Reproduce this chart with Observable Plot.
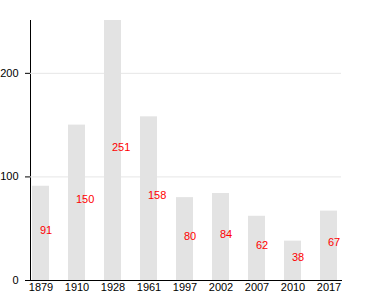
<!DOCTYPE html>
<html>
<head>
<meta charset="utf-8">
<script src="https://cdn.jsdelivr.net/npm/d3@7"></script>
<script src="https://cdn.jsdelivr.net/npm/@observablehq/plot@0.6"></script>
<style>
  html, body { margin: 0; padding: 0; background: #fff; }
  svg { font-family: "Liberation Sans", Arial, sans-serif; }
</style>
</head>
<body>
<div id="chart"></div>
<script>
const years = ["1879", "1910", "1928", "1961", "1997", "2002", "2007", "2010", "2017"];
const values = [91, 150, 251, 158, 80, 84, 62, 38, 67];
const yTicks = [0, 100, 200];

const data = years.map((year, i) => ({ year, value: values[i] }));

const chart = Plot.plot({
  width: 380,
  height: 300,
  marginLeft: 30,
  marginRight: 39,
  marginTop: 20,
  marginBottom: 20,
  style: { fontFamily: "Liberation Sans, Arial, sans-serif", fontSize: "11px", color: "#000", background: "#fff" },
  x: {
    domain: years,
    range: [19.7, 349.3],
    paddingInner: 0.54,
    paddingOuter: 0.27,
    label: null,
    tickSize: 0,
    tickPadding: 3,
    line: true
  },
  y: {
    domain: [0, 251],
    ticks: yTicks,
    tickSize: 5,
    tickPadding: 7,
    label: null,
    line: true
  },
  marks: [
    Plot.gridY(yTicks.filter(d => d > 0), { stroke: "#e6e6e6", strokeOpacity: 1 }),
    Plot.barY(data, { x: "year", y: "value", fill: "#e3e3e3" }),
    Plot.text(data, {
      x: "year",
      y: d => d.value / 2,
      text: d => String(d.value),
      fill: "#f00",
      textAnchor: "start",
      dx: -1,
      dy: -3,
      fontSize: 11
    })
  ]
});
document.getElementById("chart").appendChild(chart);
</script>
</body>
</html>
